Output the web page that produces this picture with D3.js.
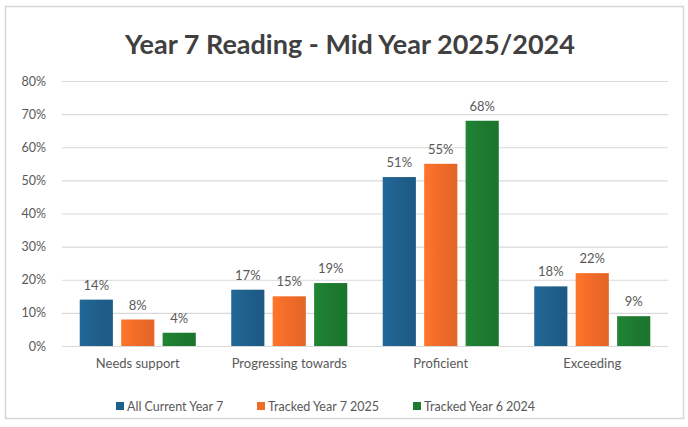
<!DOCTYPE html>
<html>
<head>
<meta charset="utf-8">
<script src="https://cdn.jsdelivr.net/npm/d3@7"></script>
<style>
  html, body { margin: 0; padding: 0; background: #ffffff; }
  svg { display: block; font-family: Lato, "Open Sans", sans-serif; }
</style>
</head>
<body>
<svg id="chart" width="688" height="427"></svg>
<script>
// Reading attainment bands, mid year
const categories = ["Needs support", "Progressing towards", "Proficient", "Exceeding"];
const seriesNames = ["All Current Year 7", "Tracked Year 7 2025", "Tracked Year 6 2024"];
const allCurrentYear7 = [14, 17, 51, 18];
const trackedYear7_2025 = [8, 15, 55, 22];
const trackedYear6_2024 = [4, 19, 68, 9];
const yTicks = [0, 10, 20, 30, 40, 50, 60, 70, 80];
const seriesColors = ["#1f5f8b", "#f06b28", "#1d7a30"];

const seriesValues = [allCurrentYear7, trackedYear7_2025, trackedYear6_2024];

const svg = d3.select("#chart");
const W = 688, H = 427;
const margin = { top: 81, right: 20, bottom: 81, left: 62 };
const plotW = W - margin.left - margin.right;
const plotH = H - margin.top - margin.bottom;

// chart frame
svg.append("rect")
  .attr("x", 5.5).attr("y", 6.5)
  .attr("width", 678).attr("height", 412)
  .attr("fill", "#ffffff")
  .attr("stroke", "#d6d6d6").attr("stroke-width", 1.5);

svg.append("text")
  .attr("x", 350).attr("y", 54)
  .attr("text-anchor", "middle")
  .attr("font-size", 27).attr("font-weight", 700)
  .attr("fill", "#404040")
  .text("Year 7 Reading - Mid Year 2025/2024");

const g = svg.append("g").attr("transform", `translate(${margin.left},${margin.top})`);

const y = d3.scaleLinear().domain([0, 80]).range([plotH, 0]);
const x0 = d3.scaleBand().domain(categories).range([0, plotW]).paddingInner(0.234).paddingOuter(0.117);
const x1 = d3.scaleBand().domain(d3.range(seriesNames.length)).range([0, x0.bandwidth()])
  .paddingInner(0.2).paddingOuter(0);

// gridlines + y labels
const yAxis = d3.axisLeft(y).tickValues(yTicks).tickSize(-plotW).tickFormat(d => d + "%");
const ya = g.append("g").call(yAxis);
ya.select(".domain").remove();
ya.selectAll(".tick line").attr("stroke", "#d9d9d9").attr("stroke-width", 1.2);
ya.selectAll(".tick text")
  .attr("x", -16)
  .attr("font-size", 12.5)
  .attr("font-family", "Lato, sans-serif")
  .attr("fill", "#595959");

// category labels
const xAxis = d3.axisBottom(x0).tickSize(0).tickPadding(13);
const xa = g.append("g").attr("transform", `translate(0,${plotH})`).call(xAxis);
xa.select(".domain").remove();
xa.selectAll(".tick text")
  .attr("font-size", 13)
  .attr("font-family", "Lato, sans-serif")
  .attr("fill", "#595959");

// bars
const defs = svg.append("defs");
seriesColors.forEach((c, i) => {
  const grad = defs.append("linearGradient").attr("id", "grad" + i)
    .attr("x1", 0).attr("x2", 1).attr("y1", 0).attr("y2", 0);
  grad.append("stop").attr("offset", "0%").attr("stop-color", d3.color(c).brighter(0.25));
  grad.append("stop").attr("offset", "50%").attr("stop-color", c);
  grad.append("stop").attr("offset", "100%").attr("stop-color", d3.color(c).darker(0.15));
});

const groups = g.selectAll(".cat")
  .data(categories)
  .join("g")
  .attr("transform", d => `translate(${x0(d)},0)`);

groups.selectAll("rect")
  .data((d, ci) => seriesValues.map((vals, si) => ({ si, v: vals[ci] })))
  .join("rect")
  .attr("x", d => x1(d.si))
  .attr("y", d => y(d.v))
  .attr("width", x1.bandwidth())
  .attr("height", d => plotH - y(d.v))
  .attr("fill", d => `url(#grad${d.si})`);

groups.selectAll("text.val")
  .data((d, ci) => seriesValues.map((vals, si) => ({ si, v: vals[ci] })))
  .join("text")
  .attr("class", "val")
  .attr("x", d => x1(d.si) + x1.bandwidth() / 2)
  .attr("y", d => y(d.v) - 10)
  .attr("text-anchor", "middle")
  .attr("font-size", 13)
  .attr("fill", "#595959")
  .text(d => d.v + "%");

// legend
const legendX = [116, 257, 413];
const legend = svg.append("g").attr("transform", "translate(0,407)");
seriesNames.forEach((name, i) => {
  const item = legend.append("g").attr("transform", `translate(${legendX[i]},0)`);
  item.append("rect").attr("x", 0).attr("y", -5).attr("width", 8).attr("height", 8)
    .attr("fill", seriesColors[i]);
  item.append("text").attr("x", 11).attr("y", 0).attr("dy", "0.35em")
    .attr("font-size", 12.5).attr("fill", "#595959").text(name);
});
</script>
</body>
</html>
